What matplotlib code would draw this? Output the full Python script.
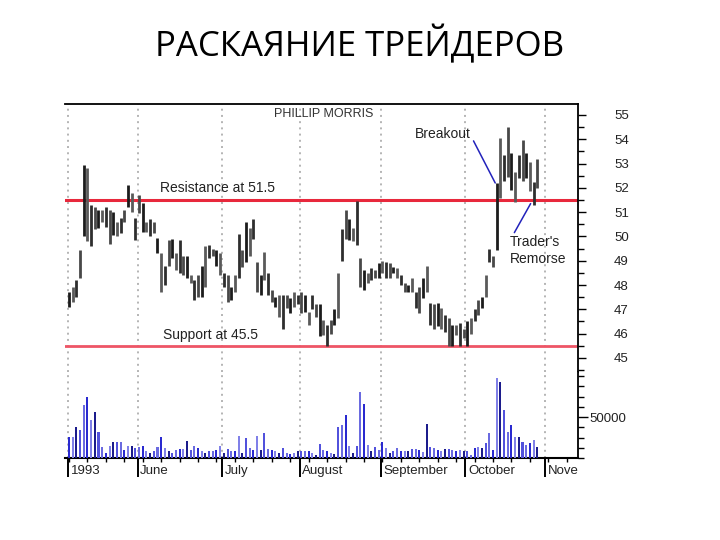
import matplotlib
matplotlib.use('Agg')
import matplotlib.pyplot as plt
import matplotlib.transforms as mtrans
from matplotlib.ticker import MultipleLocator, FixedLocator, NullFormatter

plt.rcParams['font.family'] = ['Liberation Sans', 'DejaVu Sans']

# ---------------- data ----------------
title = "РАСКАЯНИЕ ТРЕЙДЕРОВ"
chart_name = "PHILLIP MORRIS"

highs = [
    # May
    47.7, 47.9, 48.2, 49.45, 52.95, 52.8, 51.3, 51.2, 51.1, 51.1, 51.2, 51.1, 51.0, 50.6, 50.76, 51.1, 52.1, 51.8, 50.76,
    # June
    51.7, 51.37, 50.6, 50.7, 50.6, 49.94, 49.3, 48.8, 49.86, 49.9, 49.3, 49.86, 49.2, 49.2, 48.4, 48.2, 48.4, 48.8, 49.6, 49.65, 49.5, 49.45, 49.3,
    # July
    48.5, 48.4, 47.9, 48.4, 50.1, 49.45, 50.6, 50.35, 50.7, 48.95, 48.4, 49.35, 48.5, 47.8, 47.5, 47.6, 47.6, 47.6, 47.45, 47.7, 47.6,
    # August
    47.7, 47.6, 46.9, 47.6, 47.2, 47.2, 46.55, 46.35, 46.55, 47.0, 48.5, 50.3, 51.1, 50.7, 50.35, 51.45, 49.1, 48.6, 48.5, 48.7, 48.6, 48.9,
    # September
    49.0, 48.95, 48.9, 48.75, 48.7, 48.4, 48.1, 48.0, 48.3, 47.7, 47.9, 48.3, 48.8, 47.25, 47.2, 47.25, 47.05, 46.75, 46.65, 46.35, 46.35, 46.45, 46.2,
    # October
    46.5, 46.65, 47.0, 47.4, 47.5, 48.4, 49.5, 49.2, 52.2, 54.05, 53.35, 54.5, 53.45, 52.65, 53.35, 53.95, 53.45, 53.05, 52.25, 53.2,
]
lows = [
    47.1, 47.3, 47.5, 48.3, 50.0, 49.8, 49.6, 50.3, 50.35, 50.6, 50.4, 49.7, 50.06, 50.0, 50.14, 50.6, 51.2, 51.0, 49.86,
    50.95, 50.2, 50.2, 50.0, 50.13, 49.3, 47.7, 48.0, 48.8, 49.1, 48.6, 48.5, 48.4, 48.3, 48.1, 47.4, 47.5, 47.5, 47.9, 49.1, 49.2, 48.8, 48.4,
    47.9, 47.3, 47.4, 47.7, 48.3, 48.75, 48.95, 49.2, 49.9, 47.7, 47.6, 48.2, 47.6, 47.3, 47.1, 46.7, 46.2, 47.05, 46.85, 47.1, 47.2,
    46.85, 46.9, 46.35, 47.0, 46.7, 45.9, 45.95, 45.5, 46.0, 46.35, 46.65, 49.0, 49.9, 49.86, 49.8, 49.65, 47.9, 47.8, 48.1, 48.2, 48.3, 48.3,
    48.5, 48.3, 48.3, 48.5, 48.3, 48.0, 47.7, 47.7, 47.7, 47.05, 46.85, 47.45, 47.7, 46.35, 46.2, 46.3, 46.2, 46.05, 45.5, 45.5, 45.95, 45.5, 45.8,
    45.5, 46.0, 46.5, 46.75, 47.05, 47.5, 48.95, 48.75, 49.45, 51.6, 52.3, 52.45, 51.9, 51.4, 52.4, 52.3, 52.4, 51.85, 51.3, 52.0,
]
volumes = [v * 1000 for v in [
    26, 26, 38, 34, 65, 74, 47, 56, 32, 14, 6, 15, 20, 20, 20, 10, 15, 15, 12,
    13, 15, 8, 6, 9, 13, 26, 12, 8, 6, 10, 11, 11, 21, 10, 15, 12, 9, 6, 8, 9, 10, 15,
    6, 11, 8, 8, 27, 6, 25, 12, 10, 27, 10, 30, 11, 10, 8, 6, 12, 6, 5, 6, 8,
    8, 9, 9, 6, 4, 17, 10, 8, 6, 5, 38, 40, 52, 15, 6, 15, 80, 66, 16, 8, 13, 10,
    20, 12, 6, 9, 12, 8, 9, 8, 11, 11, 10, 7, 42, 13, 12, 10, 8, 11, 11, 10, 8, 10, 9,
    8, 4, 12, 14, 12, 18, 30, 10, 98, 93, 59, 32, 40, 26, 26, 20, 16, 18, 22, 14,
]]
days = list(range(len(highs)))

month_labels = ["1993", "June", "July", "August", "September", "October", "Nove"]
month_starts = [-0.3, 18.6, 41.6, 62.6, 84.6, 107.5, 129.1]

resistance = 51.5
support = 45.5
resistance_label = "Resistance at 51.5"
support_label = "Support at 45.5"
breakout_label = "Breakout"
breakout_day, breakout_price = 116, 52.2
remorse_label = "Trader's\nRemorse"
remorse_day, remorse_price = 126, 51.35

# ---------------- figure ----------------
fig = plt.figure(figsize=(7.2, 5.4), dpi=100)
fig.patch.set_facecolor('white')

fig.text(0.5, 1 - 45 / 540, title, ha='center', va='center', fontsize=25,
         family=['Open Sans', 'DejaVu Sans'], color='black')

W, H = 720, 540
left, right = 65, 578
top_p, split, base = 104, 372, 458
ax = fig.add_axes([left / W, 1 - split / H, (right - left) / W, (split - top_p) / H])
axv = fig.add_axes([left / W, 1 - base / H, (right - left) / W, (base - split) / H], sharex=ax)

xmin, xmax = -1.085, 138.05
ax.set_xlim(xmin, xmax)
ax.set_ylim(44.42, 55.45)
axv.set_ylim(0, 105000)

bar_colors = ['#1c1c1c', '#5a5a5a', '#2e2e2e', '#484848']
vol_colors = ['#2a2ad0', '#8080e8', '#1c1c8c', '#5252dc', '#6a6ae0']

grid_kw = dict(color='#b4b4b4', lw=1.4, ls=(0, (1, 2.2)), zorder=0)
for m in month_starts:
    ax.axvline(m, **grid_kw)
    axv.axvline(m, **grid_kw)

ax.axhline(resistance, color='#e8283c', lw=2.2, zorder=1)
ax.axhline(support, color='#ee5566', lw=2.0, zorder=1)

ax.vlines(days, lows, highs, colors=[bar_colors[i % 4] for i in days], lw=2.0, zorder=3)
axv.bar(days, volumes, width=0.55, color=[vol_colors[i % 5] for i in days], zorder=3)

# spines
for s in ['left', 'bottom']:
    ax.spines[s].set_visible(False)
ax.spines['top'].set_linewidth(1.3)
ax.spines['right'].set_linewidth(1.3)
for s in ['left', 'top']:
    axv.spines[s].set_visible(False)
axv.spines['bottom'].set_linewidth(1.5)
axv.spines['right'].set_linewidth(1.3)

# price axis ticks
ax.yaxis.tick_right()
ax.yaxis.set_major_locator(MultipleLocator(1))
ax.yaxis.set_minor_locator(MultipleLocator(0.5))
ax.tick_params(axis='y', which='major', direction='out', length=6, width=1, pad=20,
               labelsize=9.5, labelcolor='#222222')
ax.tick_params(axis='y', which='minor', direction='out', length=4, width=1)
ax.tick_params(axis='x', which='both', bottom=False, labelbottom=False)

# volume axis ticks
axv.yaxis.tick_right()
axv.yaxis.set_major_locator(FixedLocator([50000]))
axv.yaxis.set_minor_locator(MultipleLocator(12500))
axv.yaxis.set_minor_formatter(NullFormatter())
axv.tick_params(axis='y', which='major', direction='out', length=7, width=1, pad=1.5,
                labelsize=9.5, labelcolor='#222222')
axv.tick_params(axis='y', which='minor', direction='out', length=4, width=1)

axv.set_xticks(month_starts)
axv.set_xticklabels([])
axv.xaxis.set_minor_locator(MultipleLocator(5))
axv.tick_params(axis='x', which='major', direction='out', length=14, width=1.4)
axv.tick_params(axis='x', which='minor', direction='out', length=3, width=1)

trans = mtrans.blended_transform_factory(axv.transData, axv.transAxes)
for m, lab in zip(month_starts, month_labels):
    axv.text(m + 0.7, -0.15, lab, transform=trans, ha='left', va='center',
             fontsize=9.5, color='#222222', clip_on=False)

# annotations
ax.text(69.2, 55.02, chart_name, ha='center', va='center', fontsize=9, color='#333333')
ax.text(24.7, 51.99, resistance_label, ha='left', va='center', fontsize=10, color='#222222')
ax.text(25.5, 45.95, support_label, ha='left', va='center', fontsize=10, color='#222222')
ax.annotate(breakout_label, xy=(breakout_day - 0.4, breakout_price), xytext=(93.8, 54.22),
            ha='left', va='center', fontsize=10, color='#222222',
            arrowprops=dict(arrowstyle='-', color='#2222bb', lw=1.1,
                            shrinkA=0, shrinkB=0, relpos=(1.05, 0.0)))
ax.annotate(remorse_label, xy=(remorse_day - 0.8, remorse_price), xytext=(119.6, 49.42),
            ha='left', va='center', fontsize=10, color='#222222', linespacing=1.2,
            arrowprops=dict(arrowstyle='-', color='#2222bb', lw=1.1,
                            shrinkA=0, shrinkB=0, relpos=(0.05, 1.0)))

fig.savefig('out.png', dpi=100, facecolor='white')
